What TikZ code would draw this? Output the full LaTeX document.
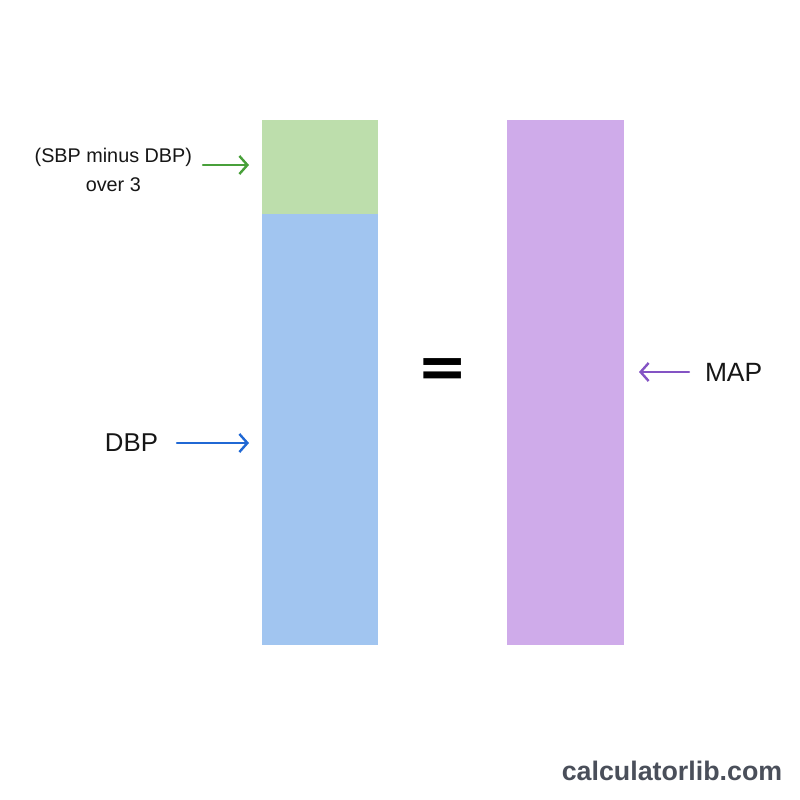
\documentclass[tikz,border=0pt]{standalone}
\usepackage{fontspec}
\setmainfont{Liberation Sans}
\newfontfamily\eqfont{DejaVu Sans}
\usetikzlibrary{arrows.meta,positioning}

\definecolor{pulsegreen}{RGB}{189,222,172}
\definecolor{dbpblue}{RGB}{161,197,240}
\definecolor{mapviolet}{RGB}{207,171,234}
\definecolor{pulsearrow}{RGB}{72,160,58}
\definecolor{dbparrow}{RGB}{32,104,212}
\definecolor{maparrow}{RGB}{132,84,196}
\definecolor{labelblack}{RGB}{22,22,22}
\definecolor{sitegray}{RGB}{74,79,90}

\begin{document}
\begin{tikzpicture}[x=0.5pt, y=-0.5pt,
    bar/.style={rectangle, inner sep=0pt, outer sep=0pt, minimum width=58pt},
    lbl/.style={text=labelblack, inner ysep=0pt, outer sep=0pt},
    pointer/.style={-{Straight Barb[length=4pt,width=9pt]}, line width=1.2pt, line cap=round}]
    \useasboundingbox (0,0) rectangle (800,800);

    % Stacked bar: pulse part on top of DBP
    \node[bar, fill=pulsegreen, minimum height=47pt, anchor=north west] (pulse) at (262,120) {};
    \node[bar, fill=dbpblue, minimum height=215.5pt, below=0pt of pulse] (dbp) {};

    % MAP bar
    \node[bar, fill=mapviolet, minimum width=58.5pt, minimum height=262.5pt, anchor=north west] (map) at (507,120) {};

    % Equals sign
    \node[text=black, font=\eqfont\bfseries\fontsize{30}{30}\selectfont] (equals) at (442.5,373) {=};

    % Labels
    \node[lbl, align=center, inner xsep=5.5pt, anchor=east, font=\fontsize{9.9}{14.5}\selectfont] (pulselbl) at (203,170) {(SBP minus DBP)\\over 3};
    \node[lbl, inner xsep=9.5pt, anchor=east, font=\fontsize{12.9}{15}\selectfont] (dbplbl) at (177,443) {DBP};
    \node[lbl, inner xsep=8pt, anchor=west, font=\fontsize{13.2}{15}\selectfont] (maplbl) at (689,372) {MAP};

    % Arrow tips
    \coordinate (pulsetip) at (249,165);
    \coordinate (dbptip) at (249,443);
    \coordinate (maptip) at (639,372);

    % Arrows
    \draw[pointer, draw=pulsearrow] (pulselbl.east |- pulsetip) -- (pulsetip);
    \draw[pointer, draw=dbparrow] (dbplbl.east) -- (dbptip);
    \draw[pointer, draw=maparrow] (maplbl.west) -- (maptip);

    % Site mark
    \node[text=sitegray, font=\bfseries\fontsize{13.4}{16}\selectfont] (site) at (672,771) {calculatorlib.com};
\end{tikzpicture}
\end{document}
